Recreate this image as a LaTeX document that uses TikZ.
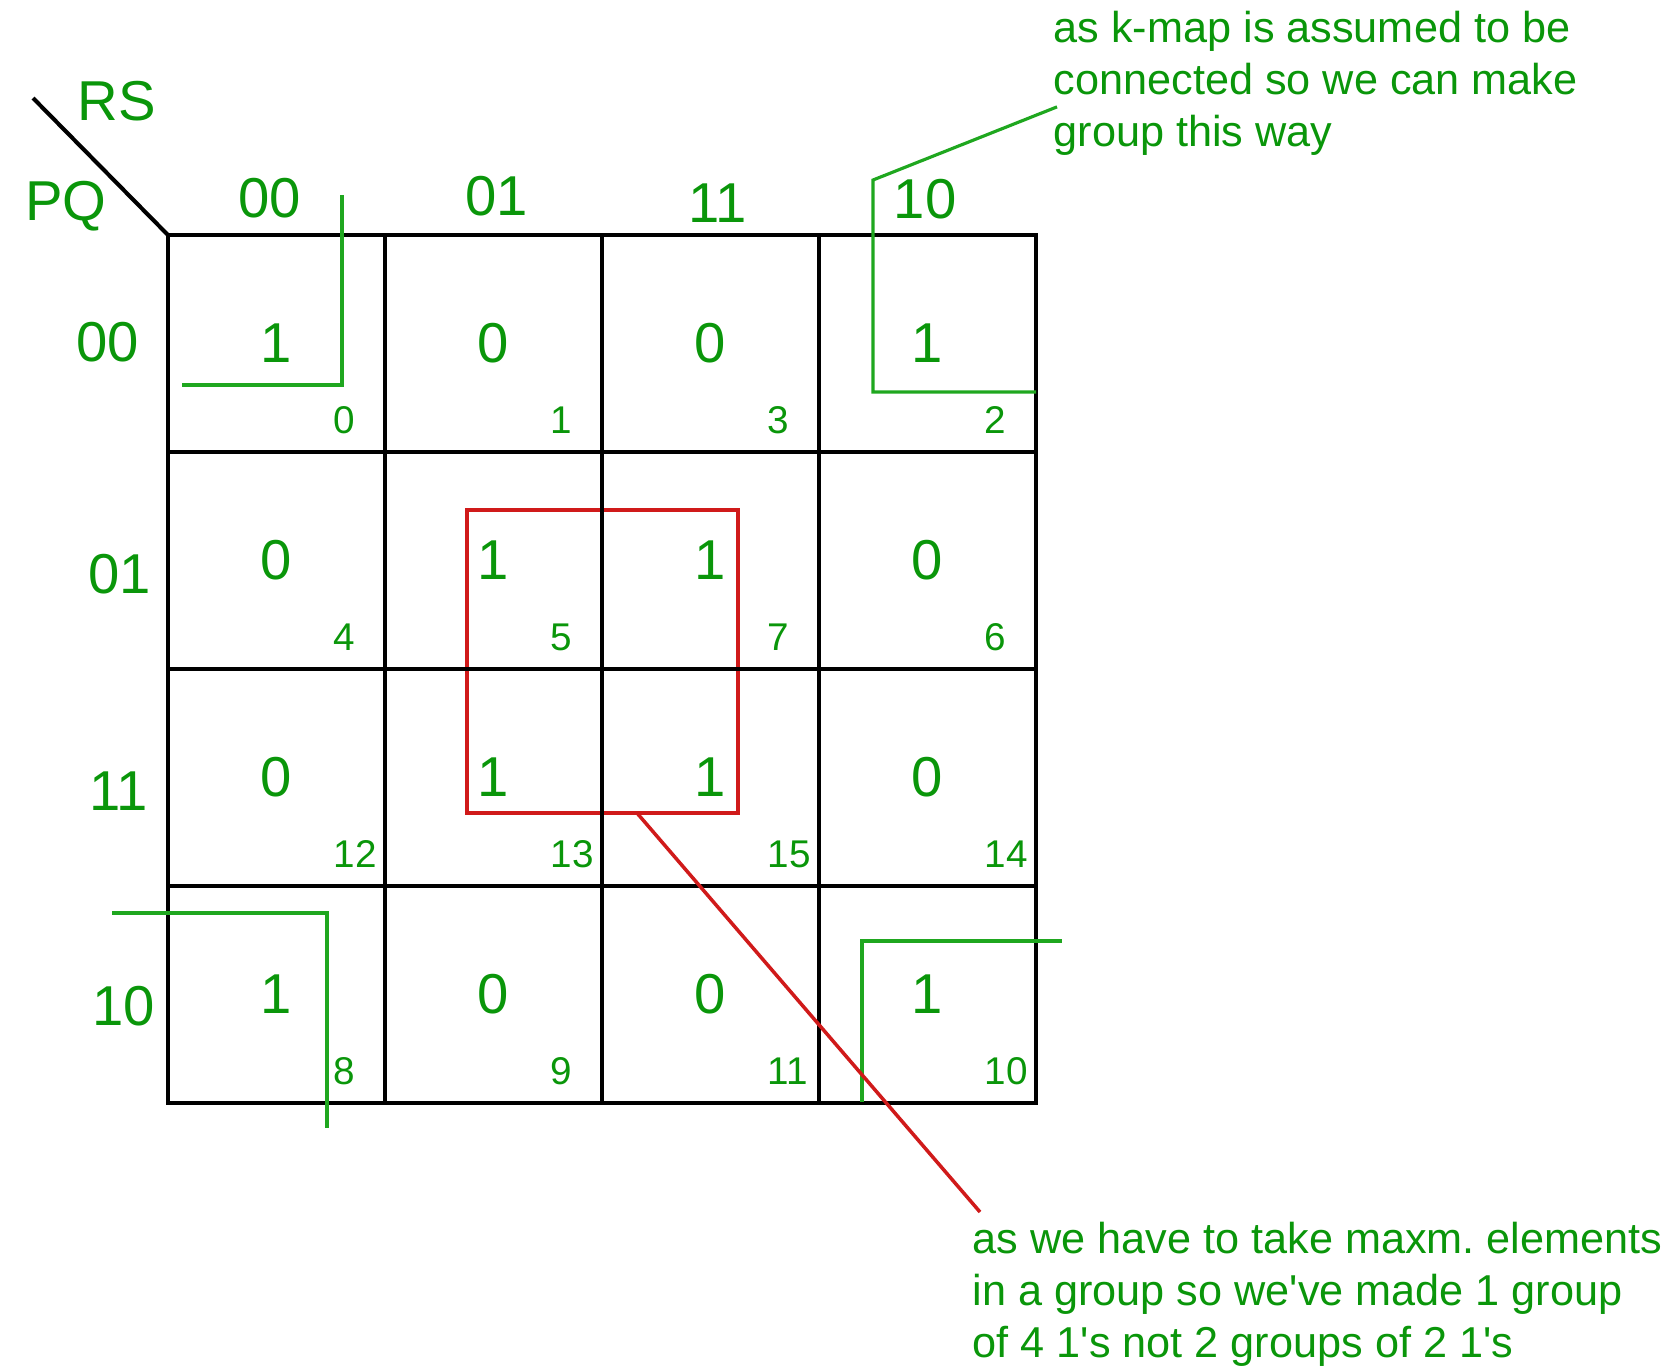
\documentclass[tikz,border=0pt]{standalone}
\usepackage{fontspec}
\setmainfont{Liberation Sans}
\usetikzlibrary{positioning,calc}
\definecolor{kgreen}{HTML}{0A960A}
\definecolor{lgreen}{HTML}{1FA71F}
\definecolor{kred}{HTML}{D01A1A}

\begin{document}
\begin{tikzpicture}[
    cell/.style={draw=black, line width=1.15pt, minimum size=2.17cm, inner sep=0pt, outer sep=0pt, text=kgreen, font=\fontsize{16}{19}\selectfont},
    idx/.style={anchor=west, inner sep=0pt, text=kgreen, font=\fontsize{11}{13}\selectfont},
    head/.style={inner sep=0pt, text=kgreen, font=\fontsize{16}{19}\selectfont},
    note/.style={anchor=north west, inner sep=0pt, align=left, text=kgreen, font=\fontsize{12.3}{14.8}\selectfont},
    grp/.style={draw=lgreen, line width=0.9pt},
    quad/.style={draw=kred, line width=1pt, minimum width=2.71cm, minimum height=3.03cm, inner sep=0pt, outer sep=0pt}]
  \useasboundingbox (0,0) rectangle (16.75,-13.7);
  \node[quad] (q) at (6.025,-6.615) {};
  \foreach \v/\i [count=\k from 0] in {1/0,0/1,0/3,1/2,0/4,1/5,1/7,0/6,0/12,1/13,1/15,0/14,1/8,0/9,0/11,1/10} {
    \pgfmathtruncatemacro\col{mod(\k,4)}
    \pgfmathtruncatemacro\row{div(\k,4)}
    \node[cell] (m\i) at ({2.765+2.17*\col},{-3.435-2.17*\row}) {\v};
    \node[idx] (n\i) at ($(m\i.south east)+(-0.52,0.32)$) {\i};
  }
  \node[head] (rs) at (1.17,-1.01) {RS};
  \node[head] (pq) at (0.66,-2.06) {PQ};
  \coordinate (slash) at (0.33,-0.98);
  \draw[line width=1.15pt] (slash) -- (m0.north west);
  \node[head] (c00) at (2.70,-1.98) {00};
  \node[head] (c01) at (4.97,-1.96) {01};
  \node[head] (c11) at (7.18,-2.03) {11};
  \node[head] (c10) at (9.25,-1.99) {10};
  \node[head] (r00) at (1.08,-3.42) {00};
  \node[head] (r01) at (1.20,-5.74) {01};
  \node[head] (r11) at (1.19,-7.91) {11};
  \node[head] (r10) at (1.24,-10.06) {10};
  \node[note] (top) at (10.53,-0.10) {as k-map is assumed to be\\connected so we can make\\group this way};
  \node[note] (bot) at (9.72,-12.21) {as we have to take maxm.\ elements\\in a group so we\textquotesingle ve made 1 group\\of 4 1\textquotesingle s not 2 groups of 2 1\textquotesingle s};
  \draw[grp] (1.82,-3.85) -- (3.42,-3.85) -- (3.42,-1.95);
  \draw[grp] (m2.east |- 0,-3.92) -- (8.73,-3.92) -- (8.73,-1.80) -- ($(top.west)+(0.04,-0.24)$);
  \draw[grp] (1.12,-9.13) -- (3.27,-9.13) -- (3.27,-11.28);
  \draw[grp] (8.62,-11.02) -- (8.62,-9.41) -- (10.62,-9.41);
  \draw[kred, line width=1pt] ($(q.south)+(0.345,0)$) -- ($(bot.north west)+(0.08,0.09)$);
\end{tikzpicture}
\end{document}
